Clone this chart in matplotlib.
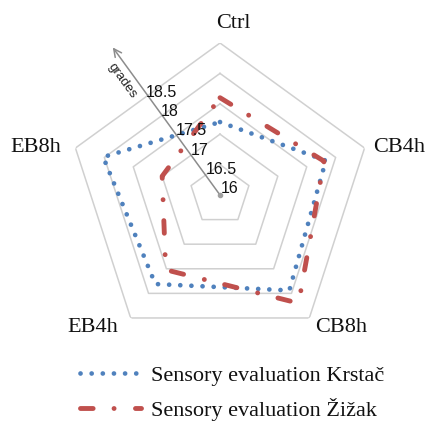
import numpy as np
import matplotlib.pyplot as plt

categories = ["Ctrl", "CB4h", "CB8h", "EB4h", "EB8h"]
krstac = [17.2, 17.83, 17.94, 17.81, 18.02]
zizak = [17.6, 17.8, 18.2, 17.52, 17.0]
levels = [16.5, 17, 17.5, 18, 18.5]
level_labels = ["16", "16.5", "17", "17.5", "18", "18.5"]

W, H = 427, 425
fig = plt.figure(figsize=(W / 100, H / 100), dpi=100)

# polar axes: centre at (220, 195) px from top-left, radius 152 px
cx, cy, R = 220, 195, 152
ax = fig.add_axes([(cx - R) / W, (H - cy - R) / H, 2 * R / W, 2 * R / H],
                  projection="polar")
ax.set_theta_zero_location("N")
ax.set_theta_direction(-1)
ax.set_rlim(16, 18.5)
ax.set_xticks([])
ax.set_yticks([])
ax.grid(False)
ax.spines["polar"].set_visible(False)
ax.patch.set_visible(False)

theta = np.linspace(0, 2 * np.pi, len(categories), endpoint=False)
theta_c = np.append(theta, theta[0])

# pentagon grid
for lv in levels:
    ax.plot(theta_c, [lv] * len(theta_c), color="#D0D0D0", lw=1.1, zorder=1)

blue = "#4F81BD"
red = "#C0504D"
ax.plot(theta_c, krstac + krstac[:1], color=blue, lw=3.4,
        linestyle=(0, (0.01, 2.35)), dash_capstyle="round", zorder=3,
        label="Sensory evaluation Krsta\u010d")
ax.plot(theta_c, zizak + zizak[:1], color=red, lw=3.5,
        linestyle=(0, (2.6, 4.3, 0.01, 4.4)), dash_capstyle="round", zorder=4,
        label="Sensory evaluation \u017di\u017eak")

# "grades" axis arrow between Ctrl and EB8h
ta = np.deg2rad(324)
ax.annotate("", xy=(ta, 19.0), xytext=(ta, 16.0),
            arrowprops=dict(arrowstyle="->", color="#8C8C8C", lw=1.1,
                            shrinkA=0, shrinkB=0, mutation_scale=14),
            annotation_clip=False, zorder=2)
ax.plot([ta], [16.0], "o", color="#A0A0A0", ms=3, zorder=2)
ax.text(np.deg2rad(319.5), 18.48, "grades", rotation=-54, fontsize=9.5,
        family="Liberation Sans", color="#222222", ha="center", va="center",
        rotation_mode="anchor")

for i, lbl in enumerate(level_labels):
    v = 16 + 0.5 * i
    ax.annotate(lbl, xy=(ta, v), xytext=(0.5 + 3 * i, 6.5 - 5.4 * i),
                textcoords="offset pixels", ha="left", va="center",
                fontsize=11.5, family="Liberation Sans", color="#111111",
                annotation_clip=False, zorder=5)

# category labels
serif = "Liberation Serif"
label_pos = [(233, 23), (399, 147), (341, 327), (93, 327), (36, 147)]
for name, (px, py) in zip(categories, label_pos):
    fig.text(px / W, 1 - py / H, name, ha="center", va="center",
             fontsize=16, family=serif, color="#111111")

leg = fig.legend(loc="upper left", bbox_to_anchor=(80 / W, 1 - 365 / H),
                 frameon=False, borderpad=0, borderaxespad=0,
                 handlelength=2.75, handletextpad=0.45, labelspacing=0.56,
                 prop={"family": serif, "size": 16})
for t in leg.get_texts():
    t.set_color("#111111")

fig.savefig("out.png", dpi=100)
